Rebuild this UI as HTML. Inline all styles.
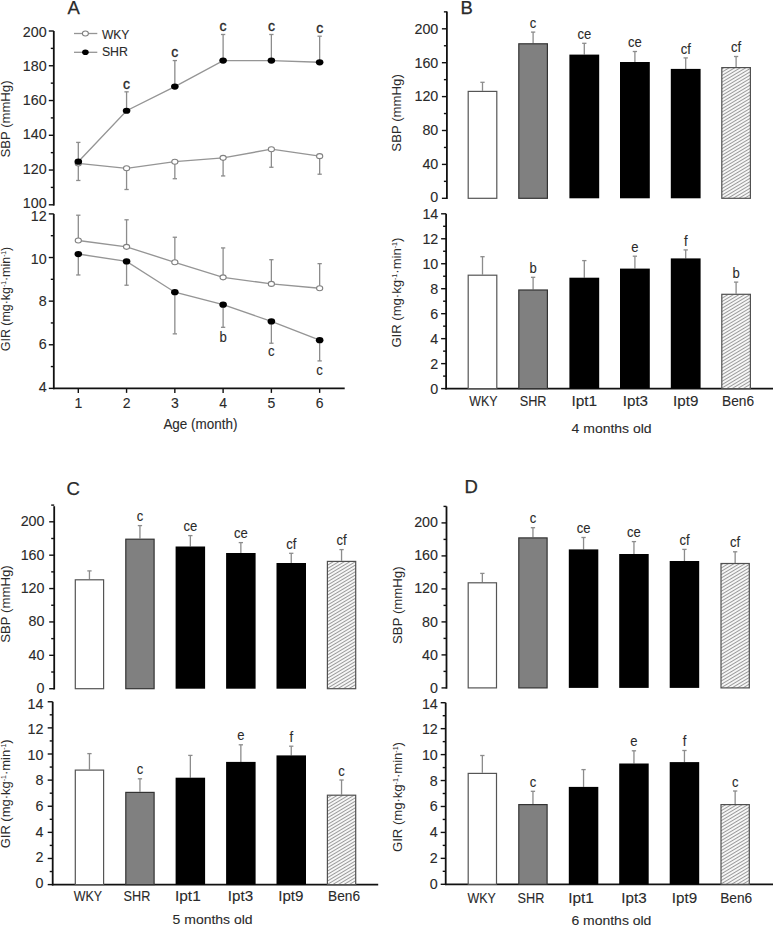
<!DOCTYPE html>
<html><head><meta charset="utf-8"><style>
html,body{margin:0;padding:0;background:#fff;}
svg{display:block;font-family:"Liberation Sans", sans-serif;}
</style></head><body>
<svg width="773" height="925" viewBox="0 0 773 925">
<rect width="773" height="925" fill="#fff"/>
<defs><pattern id="hatch" patternUnits="userSpaceOnUse" width="2.85" height="2.85" patternTransform="rotate(59)">
<rect width="2.85" height="2.85" fill="#f6f6f6"/><line x1="0" y1="0" x2="0" y2="2.85" stroke="#5c5c5c" stroke-width="1.15"/></pattern></defs>
<text x="67.60" y="13.90" font-size="18.5" text-anchor="start" fill="#2a2a2a" stroke="#2a2a2a" stroke-width="0.1" style="stroke-width:0.25px">A</text>
<line x1="53.80" y1="31.00" x2="53.80" y2="205.60" stroke="#111" stroke-width="1.8"/>
<line x1="48.80" y1="204.80" x2="53.80" y2="204.80" stroke="#111" stroke-width="1.4"/>
<line x1="48.80" y1="170.04" x2="53.80" y2="170.04" stroke="#111" stroke-width="1.4"/>
<line x1="48.80" y1="135.28" x2="53.80" y2="135.28" stroke="#111" stroke-width="1.4"/>
<line x1="48.80" y1="100.52" x2="53.80" y2="100.52" stroke="#111" stroke-width="1.4"/>
<line x1="48.80" y1="65.76" x2="53.80" y2="65.76" stroke="#111" stroke-width="1.4"/>
<line x1="48.80" y1="31.00" x2="53.80" y2="31.00" stroke="#111" stroke-width="1.4"/>
<line x1="50.80" y1="187.42" x2="53.80" y2="187.42" stroke="#111" stroke-width="1.4"/>
<line x1="50.80" y1="152.66" x2="53.80" y2="152.66" stroke="#111" stroke-width="1.4"/>
<line x1="50.80" y1="117.90" x2="53.80" y2="117.90" stroke="#111" stroke-width="1.4"/>
<line x1="50.80" y1="83.14" x2="53.80" y2="83.14" stroke="#111" stroke-width="1.4"/>
<line x1="50.80" y1="48.38" x2="53.80" y2="48.38" stroke="#111" stroke-width="1.4"/>
<text x="46.60" y="208.00" font-size="14.3" text-anchor="end" fill="#2a2a2a" stroke="#2a2a2a" stroke-width="0.1" >100</text>
<text x="46.60" y="173.73" font-size="14.3" text-anchor="end" fill="#2a2a2a" stroke="#2a2a2a" stroke-width="0.1" >120</text>
<text x="46.60" y="139.46" font-size="14.3" text-anchor="end" fill="#2a2a2a" stroke="#2a2a2a" stroke-width="0.1" >140</text>
<text x="46.60" y="105.19" font-size="14.3" text-anchor="end" fill="#2a2a2a" stroke="#2a2a2a" stroke-width="0.1" >160</text>
<text x="46.60" y="70.92" font-size="14.3" text-anchor="end" fill="#2a2a2a" stroke="#2a2a2a" stroke-width="0.1" >180</text>
<text x="46.60" y="36.65" font-size="14.3" text-anchor="end" fill="#2a2a2a" stroke="#2a2a2a" stroke-width="0.1" >200</text>
<line x1="53.80" y1="213.90" x2="53.80" y2="389.18" stroke="#111" stroke-width="1.8"/>
<line x1="48.80" y1="388.38" x2="53.80" y2="388.38" stroke="#111" stroke-width="1.4"/>
<line x1="48.80" y1="344.76" x2="53.80" y2="344.76" stroke="#111" stroke-width="1.4"/>
<line x1="48.80" y1="301.14" x2="53.80" y2="301.14" stroke="#111" stroke-width="1.4"/>
<line x1="48.80" y1="257.52" x2="53.80" y2="257.52" stroke="#111" stroke-width="1.4"/>
<line x1="48.80" y1="213.90" x2="53.80" y2="213.90" stroke="#111" stroke-width="1.4"/>
<line x1="50.80" y1="366.57" x2="53.80" y2="366.57" stroke="#111" stroke-width="1.4"/>
<line x1="50.80" y1="322.95" x2="53.80" y2="322.95" stroke="#111" stroke-width="1.4"/>
<line x1="50.80" y1="279.33" x2="53.80" y2="279.33" stroke="#111" stroke-width="1.4"/>
<line x1="50.80" y1="235.71" x2="53.80" y2="235.71" stroke="#111" stroke-width="1.4"/>
<text x="46.60" y="391.58" font-size="14.3" text-anchor="end" fill="#2a2a2a" stroke="#2a2a2a" stroke-width="0.1" >4</text>
<text x="46.60" y="348.88" font-size="14.3" text-anchor="end" fill="#2a2a2a" stroke="#2a2a2a" stroke-width="0.1" >6</text>
<text x="46.60" y="306.19" font-size="14.3" text-anchor="end" fill="#2a2a2a" stroke="#2a2a2a" stroke-width="0.1" >8</text>
<text x="46.60" y="263.50" font-size="14.3" text-anchor="end" fill="#2a2a2a" stroke="#2a2a2a" stroke-width="0.1" >10</text>
<text x="46.60" y="220.80" font-size="14.3" text-anchor="end" fill="#2a2a2a" stroke="#2a2a2a" stroke-width="0.1" >12</text>
<line x1="53.00" y1="388.38" x2="344.70" y2="388.38" stroke="#111" stroke-width="1.8"/>
<line x1="78.30" y1="388.38" x2="78.30" y2="392.88" stroke="#111" stroke-width="1.4"/>
<text x="78.30" y="408.20" font-size="14" text-anchor="middle" fill="#2a2a2a" stroke="#2a2a2a" stroke-width="0.1" >1</text>
<line x1="126.57" y1="388.38" x2="126.57" y2="392.88" stroke="#111" stroke-width="1.4"/>
<text x="126.57" y="408.20" font-size="14" text-anchor="middle" fill="#2a2a2a" stroke="#2a2a2a" stroke-width="0.1" >2</text>
<line x1="174.84" y1="388.38" x2="174.84" y2="392.88" stroke="#111" stroke-width="1.4"/>
<text x="174.84" y="408.20" font-size="14" text-anchor="middle" fill="#2a2a2a" stroke="#2a2a2a" stroke-width="0.1" >3</text>
<line x1="223.11" y1="388.38" x2="223.11" y2="392.88" stroke="#111" stroke-width="1.4"/>
<text x="223.11" y="408.20" font-size="14" text-anchor="middle" fill="#2a2a2a" stroke="#2a2a2a" stroke-width="0.1" >4</text>
<line x1="271.38" y1="388.38" x2="271.38" y2="392.88" stroke="#111" stroke-width="1.4"/>
<text x="271.38" y="408.20" font-size="14" text-anchor="middle" fill="#2a2a2a" stroke="#2a2a2a" stroke-width="0.1" >5</text>
<line x1="319.65" y1="388.38" x2="319.65" y2="392.88" stroke="#111" stroke-width="1.4"/>
<text x="319.65" y="408.20" font-size="14" text-anchor="middle" fill="#2a2a2a" stroke="#2a2a2a" stroke-width="0.1" >6</text>
<text x="200.40" y="428.80" font-size="14" text-anchor="middle" fill="#2a2a2a" textLength="74" lengthAdjust="spacingAndGlyphs" stroke="#2a2a2a" stroke-width="0.1" >Age (month)</text>
<text x="0" y="0" font-size="13" text-anchor="middle" fill="#2a2a2a" transform="translate(10.00,119.00) rotate(-90)" textLength="77" lengthAdjust="spacingAndGlyphs">SBP (mmHg)</text>
<text x="0" y="0" font-size="13" text-anchor="middle" fill="#2a2a2a" transform="translate(9.90,299.00) rotate(-90)" textLength="104.5" lengthAdjust="spacingAndGlyphs">GIR (mg·kg<tspan dy="-4" font-size="7">-1</tspan><tspan dy="4">·min</tspan><tspan dy="-4" font-size="7">-1</tspan><tspan dy="4">)</tspan></text>
<line x1="78.30" y1="163.44" x2="78.30" y2="180.47" stroke="#8c8c8c" stroke-width="1.3"/>
<line x1="76.15" y1="180.47" x2="80.45" y2="180.47" stroke="#8c8c8c" stroke-width="1.3"/>
<line x1="126.57" y1="168.30" x2="126.57" y2="189.51" stroke="#8c8c8c" stroke-width="1.3"/>
<line x1="124.42" y1="189.51" x2="128.72" y2="189.51" stroke="#8c8c8c" stroke-width="1.3"/>
<line x1="174.84" y1="161.70" x2="174.84" y2="178.73" stroke="#8c8c8c" stroke-width="1.3"/>
<line x1="172.69" y1="178.73" x2="176.99" y2="178.73" stroke="#8c8c8c" stroke-width="1.3"/>
<line x1="223.11" y1="157.87" x2="223.11" y2="175.95" stroke="#8c8c8c" stroke-width="1.3"/>
<line x1="220.96" y1="175.95" x2="225.26" y2="175.95" stroke="#8c8c8c" stroke-width="1.3"/>
<line x1="271.38" y1="149.18" x2="271.38" y2="167.26" stroke="#8c8c8c" stroke-width="1.3"/>
<line x1="269.23" y1="167.26" x2="273.53" y2="167.26" stroke="#8c8c8c" stroke-width="1.3"/>
<line x1="319.65" y1="156.14" x2="319.65" y2="174.21" stroke="#8c8c8c" stroke-width="1.3"/>
<line x1="317.50" y1="174.21" x2="321.80" y2="174.21" stroke="#8c8c8c" stroke-width="1.3"/>
<line x1="78.30" y1="161.70" x2="78.30" y2="142.41" stroke="#8c8c8c" stroke-width="1.3"/>
<line x1="76.15" y1="142.41" x2="80.45" y2="142.41" stroke="#8c8c8c" stroke-width="1.3"/>
<line x1="126.57" y1="110.77" x2="126.57" y2="91.83" stroke="#8c8c8c" stroke-width="1.3"/>
<line x1="124.42" y1="91.83" x2="128.72" y2="91.83" stroke="#8c8c8c" stroke-width="1.3"/>
<line x1="174.84" y1="86.62" x2="174.84" y2="60.55" stroke="#8c8c8c" stroke-width="1.3"/>
<line x1="172.69" y1="60.55" x2="176.99" y2="60.55" stroke="#8c8c8c" stroke-width="1.3"/>
<line x1="223.11" y1="60.55" x2="223.11" y2="34.48" stroke="#8c8c8c" stroke-width="1.3"/>
<line x1="220.96" y1="34.48" x2="225.26" y2="34.48" stroke="#8c8c8c" stroke-width="1.3"/>
<line x1="271.38" y1="60.55" x2="271.38" y2="34.48" stroke="#8c8c8c" stroke-width="1.3"/>
<line x1="269.23" y1="34.48" x2="273.53" y2="34.48" stroke="#8c8c8c" stroke-width="1.3"/>
<line x1="319.65" y1="62.28" x2="319.65" y2="36.21" stroke="#8c8c8c" stroke-width="1.3"/>
<line x1="317.50" y1="36.21" x2="321.80" y2="36.21" stroke="#8c8c8c" stroke-width="1.3"/>
<polyline points="78.30,163.44 126.57,168.30 174.84,161.70 223.11,157.87 271.38,149.18 319.65,156.14" fill="none" stroke="#959595" stroke-width="1.35"/>
<polyline points="78.30,161.70 126.57,110.77 174.84,86.62 223.11,60.55 271.38,60.55 319.65,62.28" fill="none" stroke="#959595" stroke-width="1.35"/>
<ellipse cx="78.30" cy="163.44" rx="3.1" ry="2.5" fill="#fff" stroke="#808080" stroke-width="1.1"/>
<ellipse cx="126.57" cy="168.30" rx="3.1" ry="2.5" fill="#fff" stroke="#808080" stroke-width="1.1"/>
<ellipse cx="174.84" cy="161.70" rx="3.1" ry="2.5" fill="#fff" stroke="#808080" stroke-width="1.1"/>
<ellipse cx="223.11" cy="157.87" rx="3.1" ry="2.5" fill="#fff" stroke="#808080" stroke-width="1.1"/>
<ellipse cx="271.38" cy="149.18" rx="3.1" ry="2.5" fill="#fff" stroke="#808080" stroke-width="1.1"/>
<ellipse cx="319.65" cy="156.14" rx="3.1" ry="2.5" fill="#fff" stroke="#808080" stroke-width="1.1"/>
<ellipse cx="78.30" cy="161.70" rx="3.8" ry="3.1" fill="#000"/>
<ellipse cx="126.57" cy="110.77" rx="3.8" ry="3.1" fill="#000"/>
<ellipse cx="174.84" cy="86.62" rx="3.8" ry="3.1" fill="#000"/>
<ellipse cx="223.11" cy="60.55" rx="3.8" ry="3.1" fill="#000"/>
<ellipse cx="271.38" cy="60.55" rx="3.8" ry="3.1" fill="#000"/>
<ellipse cx="319.65" cy="62.28" rx="3.8" ry="3.1" fill="#000"/>
<text x="126.57" y="88.53" font-size="14" text-anchor="middle" fill="#2a2a2a" stroke="#2a2a2a" stroke-width="0.1" style="stroke-width:0.35px">c</text>
<text x="174.84" y="57.25" font-size="14" text-anchor="middle" fill="#2a2a2a" stroke="#2a2a2a" stroke-width="0.1" style="stroke-width:0.35px">c</text>
<text x="223.11" y="31.18" font-size="14" text-anchor="middle" fill="#2a2a2a" stroke="#2a2a2a" stroke-width="0.1" style="stroke-width:0.35px">c</text>
<text x="271.38" y="31.18" font-size="14" text-anchor="middle" fill="#2a2a2a" stroke="#2a2a2a" stroke-width="0.1" style="stroke-width:0.35px">c</text>
<text x="319.65" y="32.91" font-size="14" text-anchor="middle" fill="#2a2a2a" stroke="#2a2a2a" stroke-width="0.1" style="stroke-width:0.35px">c</text>
<line x1="74.00" y1="33.50" x2="97.30" y2="33.50" stroke="#959595" stroke-width="1.3"/>
<ellipse cx="85.4" cy="33.5" rx="3.0" ry="2.5" fill="#fff" stroke="#808080" stroke-width="1.1"/>
<line x1="74.00" y1="52.30" x2="97.30" y2="52.30" stroke="#959595" stroke-width="1.3"/>
<ellipse cx="85.4" cy="52.3" rx="3.3" ry="2.8" fill="#000"/>
<text x="101.90" y="39.20" font-size="13" text-anchor="start" fill="#2a2a2a" textLength="27.5" lengthAdjust="spacingAndGlyphs" stroke="#2a2a2a" stroke-width="0.1" >WKY</text>
<text x="101.90" y="56.20" font-size="13" text-anchor="start" fill="#2a2a2a" textLength="26" lengthAdjust="spacingAndGlyphs" stroke="#2a2a2a" stroke-width="0.1" >SHR</text>
<line x1="78.30" y1="240.51" x2="78.30" y2="215.21" stroke="#8c8c8c" stroke-width="1.3"/>
<line x1="76.15" y1="215.21" x2="80.45" y2="215.21" stroke="#8c8c8c" stroke-width="1.3"/>
<line x1="126.57" y1="246.83" x2="126.57" y2="219.79" stroke="#8c8c8c" stroke-width="1.3"/>
<line x1="124.42" y1="219.79" x2="128.72" y2="219.79" stroke="#8c8c8c" stroke-width="1.3"/>
<line x1="174.84" y1="262.32" x2="174.84" y2="237.24" stroke="#8c8c8c" stroke-width="1.3"/>
<line x1="172.69" y1="237.24" x2="176.99" y2="237.24" stroke="#8c8c8c" stroke-width="1.3"/>
<line x1="223.11" y1="277.37" x2="223.11" y2="247.92" stroke="#8c8c8c" stroke-width="1.3"/>
<line x1="220.96" y1="247.92" x2="225.26" y2="247.92" stroke="#8c8c8c" stroke-width="1.3"/>
<line x1="271.38" y1="283.91" x2="271.38" y2="259.70" stroke="#8c8c8c" stroke-width="1.3"/>
<line x1="269.23" y1="259.70" x2="273.53" y2="259.70" stroke="#8c8c8c" stroke-width="1.3"/>
<line x1="319.65" y1="288.27" x2="319.65" y2="263.63" stroke="#8c8c8c" stroke-width="1.3"/>
<line x1="317.50" y1="263.63" x2="321.80" y2="263.63" stroke="#8c8c8c" stroke-width="1.3"/>
<line x1="78.30" y1="254.03" x2="78.30" y2="274.97" stroke="#8c8c8c" stroke-width="1.3"/>
<line x1="76.15" y1="274.97" x2="80.45" y2="274.97" stroke="#8c8c8c" stroke-width="1.3"/>
<line x1="126.57" y1="261.45" x2="126.57" y2="285.22" stroke="#8c8c8c" stroke-width="1.3"/>
<line x1="124.42" y1="285.22" x2="128.72" y2="285.22" stroke="#8c8c8c" stroke-width="1.3"/>
<line x1="174.84" y1="292.20" x2="174.84" y2="333.86" stroke="#8c8c8c" stroke-width="1.3"/>
<line x1="172.69" y1="333.86" x2="176.99" y2="333.86" stroke="#8c8c8c" stroke-width="1.3"/>
<line x1="223.11" y1="304.63" x2="223.11" y2="327.31" stroke="#8c8c8c" stroke-width="1.3"/>
<line x1="220.96" y1="327.31" x2="225.26" y2="327.31" stroke="#8c8c8c" stroke-width="1.3"/>
<line x1="271.38" y1="321.42" x2="271.38" y2="343.23" stroke="#8c8c8c" stroke-width="1.3"/>
<line x1="269.23" y1="343.23" x2="273.53" y2="343.23" stroke="#8c8c8c" stroke-width="1.3"/>
<line x1="319.65" y1="340.18" x2="319.65" y2="360.90" stroke="#8c8c8c" stroke-width="1.3"/>
<line x1="317.50" y1="360.90" x2="321.80" y2="360.90" stroke="#8c8c8c" stroke-width="1.3"/>
<polyline points="78.30,240.51 126.57,246.83 174.84,262.32 223.11,277.37 271.38,283.91 319.65,288.27" fill="none" stroke="#959595" stroke-width="1.35"/>
<polyline points="78.30,254.03 126.57,261.45 174.84,292.20 223.11,304.63 271.38,321.42 319.65,340.18" fill="none" stroke="#959595" stroke-width="1.35"/>
<ellipse cx="78.30" cy="240.51" rx="3.1" ry="2.5" fill="#fff" stroke="#808080" stroke-width="1.1"/>
<ellipse cx="126.57" cy="246.83" rx="3.1" ry="2.5" fill="#fff" stroke="#808080" stroke-width="1.1"/>
<ellipse cx="174.84" cy="262.32" rx="3.1" ry="2.5" fill="#fff" stroke="#808080" stroke-width="1.1"/>
<ellipse cx="223.11" cy="277.37" rx="3.1" ry="2.5" fill="#fff" stroke="#808080" stroke-width="1.1"/>
<ellipse cx="271.38" cy="283.91" rx="3.1" ry="2.5" fill="#fff" stroke="#808080" stroke-width="1.1"/>
<ellipse cx="319.65" cy="288.27" rx="3.1" ry="2.5" fill="#fff" stroke="#808080" stroke-width="1.1"/>
<ellipse cx="78.30" cy="254.03" rx="3.8" ry="3.1" fill="#000"/>
<ellipse cx="126.57" cy="261.45" rx="3.8" ry="3.1" fill="#000"/>
<ellipse cx="174.84" cy="292.20" rx="3.8" ry="3.1" fill="#000"/>
<ellipse cx="223.11" cy="304.63" rx="3.8" ry="3.1" fill="#000"/>
<ellipse cx="271.38" cy="321.42" rx="3.8" ry="3.1" fill="#000"/>
<ellipse cx="319.65" cy="340.18" rx="3.8" ry="3.1" fill="#000"/>
<text x="223.11" y="342.20" font-size="14" text-anchor="middle" fill="#2a2a2a" textLength="7.3" lengthAdjust="spacingAndGlyphs" stroke="#2a2a2a" stroke-width="0.1" >b</text>
<text x="271.38" y="356.20" font-size="14" text-anchor="middle" fill="#2a2a2a" textLength="6.6" lengthAdjust="spacingAndGlyphs" stroke="#2a2a2a" stroke-width="0.1" >c</text>
<text x="319.65" y="374.80" font-size="14" text-anchor="middle" fill="#2a2a2a" textLength="6.6" lengthAdjust="spacingAndGlyphs" stroke="#2a2a2a" stroke-width="0.1" >c</text>
<text x="460.60" y="13.50" font-size="18.5" text-anchor="start" fill="#2a2a2a" stroke="#2a2a2a" stroke-width="0.1" style="stroke-width:0.25px">B</text>
<line x1="446.90" y1="11.60" x2="446.90" y2="199.10" stroke="#111" stroke-width="1.8"/>
<line x1="441.90" y1="198.30" x2="446.90" y2="198.30" stroke="#111" stroke-width="1.4"/>
<line x1="441.90" y1="164.40" x2="446.90" y2="164.40" stroke="#111" stroke-width="1.4"/>
<line x1="441.90" y1="130.50" x2="446.90" y2="130.50" stroke="#111" stroke-width="1.4"/>
<line x1="441.90" y1="96.60" x2="446.90" y2="96.60" stroke="#111" stroke-width="1.4"/>
<line x1="441.90" y1="62.70" x2="446.90" y2="62.70" stroke="#111" stroke-width="1.4"/>
<line x1="441.90" y1="28.80" x2="446.90" y2="28.80" stroke="#111" stroke-width="1.4"/>
<line x1="443.90" y1="181.35" x2="446.90" y2="181.35" stroke="#111" stroke-width="1.4"/>
<line x1="443.90" y1="147.45" x2="446.90" y2="147.45" stroke="#111" stroke-width="1.4"/>
<line x1="443.90" y1="113.55" x2="446.90" y2="113.55" stroke="#111" stroke-width="1.4"/>
<line x1="443.90" y1="79.65" x2="446.90" y2="79.65" stroke="#111" stroke-width="1.4"/>
<line x1="443.90" y1="45.75" x2="446.90" y2="45.75" stroke="#111" stroke-width="1.4"/>
<line x1="443.90" y1="11.85" x2="446.90" y2="11.85" stroke="#111" stroke-width="1.4"/>
<text x="438.30" y="202.20" font-size="14.3" text-anchor="end" fill="#2a2a2a" stroke="#2a2a2a" stroke-width="0.1" >0</text>
<text x="438.30" y="168.59" font-size="14.3" text-anchor="end" fill="#2a2a2a" stroke="#2a2a2a" stroke-width="0.1" >40</text>
<text x="438.30" y="134.98" font-size="14.3" text-anchor="end" fill="#2a2a2a" stroke="#2a2a2a" stroke-width="0.1" >80</text>
<text x="438.30" y="101.37" font-size="14.3" text-anchor="end" fill="#2a2a2a" stroke="#2a2a2a" stroke-width="0.1" >120</text>
<text x="438.30" y="67.76" font-size="14.3" text-anchor="end" fill="#2a2a2a" stroke="#2a2a2a" stroke-width="0.1" >160</text>
<text x="438.30" y="34.15" font-size="14.3" text-anchor="end" fill="#2a2a2a" stroke="#2a2a2a" stroke-width="0.1" >200</text>
<line x1="446.10" y1="213.80" x2="446.10" y2="389.40" stroke="#111" stroke-width="1.8"/>
<line x1="441.10" y1="388.60" x2="446.10" y2="388.60" stroke="#111" stroke-width="1.4"/>
<line x1="441.10" y1="363.63" x2="446.10" y2="363.63" stroke="#111" stroke-width="1.4"/>
<line x1="441.10" y1="338.66" x2="446.10" y2="338.66" stroke="#111" stroke-width="1.4"/>
<line x1="441.10" y1="313.68" x2="446.10" y2="313.68" stroke="#111" stroke-width="1.4"/>
<line x1="441.10" y1="288.71" x2="446.10" y2="288.71" stroke="#111" stroke-width="1.4"/>
<line x1="441.10" y1="263.74" x2="446.10" y2="263.74" stroke="#111" stroke-width="1.4"/>
<line x1="441.10" y1="238.77" x2="446.10" y2="238.77" stroke="#111" stroke-width="1.4"/>
<line x1="441.10" y1="213.80" x2="446.10" y2="213.80" stroke="#111" stroke-width="1.4"/>
<line x1="443.10" y1="376.11" x2="446.10" y2="376.11" stroke="#111" stroke-width="1.4"/>
<line x1="443.10" y1="351.14" x2="446.10" y2="351.14" stroke="#111" stroke-width="1.4"/>
<line x1="443.10" y1="326.17" x2="446.10" y2="326.17" stroke="#111" stroke-width="1.4"/>
<line x1="443.10" y1="301.20" x2="446.10" y2="301.20" stroke="#111" stroke-width="1.4"/>
<line x1="443.10" y1="276.23" x2="446.10" y2="276.23" stroke="#111" stroke-width="1.4"/>
<line x1="443.10" y1="251.25" x2="446.10" y2="251.25" stroke="#111" stroke-width="1.4"/>
<line x1="443.10" y1="226.28" x2="446.10" y2="226.28" stroke="#111" stroke-width="1.4"/>
<text x="438.30" y="393.75" font-size="14.3" text-anchor="end" fill="#2a2a2a" stroke="#2a2a2a" stroke-width="0.1" >0</text>
<text x="438.30" y="368.78" font-size="14.3" text-anchor="end" fill="#2a2a2a" stroke="#2a2a2a" stroke-width="0.1" >2</text>
<text x="438.30" y="343.81" font-size="14.3" text-anchor="end" fill="#2a2a2a" stroke="#2a2a2a" stroke-width="0.1" >4</text>
<text x="438.30" y="318.83" font-size="14.3" text-anchor="end" fill="#2a2a2a" stroke="#2a2a2a" stroke-width="0.1" >6</text>
<text x="438.30" y="293.86" font-size="14.3" text-anchor="end" fill="#2a2a2a" stroke="#2a2a2a" stroke-width="0.1" >8</text>
<text x="438.30" y="268.89" font-size="14.3" text-anchor="end" fill="#2a2a2a" stroke="#2a2a2a" stroke-width="0.1" >10</text>
<text x="438.30" y="243.92" font-size="14.3" text-anchor="end" fill="#2a2a2a" stroke="#2a2a2a" stroke-width="0.1" >12</text>
<text x="438.30" y="218.95" font-size="14.3" text-anchor="end" fill="#2a2a2a" stroke="#2a2a2a" stroke-width="0.1" >14</text>
<line x1="445.30" y1="388.60" x2="773.00" y2="388.60" stroke="#111" stroke-width="1.8"/>
<line x1="482.50" y1="90.80" x2="482.50" y2="82.30" stroke="#8c8c8c" stroke-width="1.3"/>
<line x1="480.35" y1="82.30" x2="484.65" y2="82.30" stroke="#8c8c8c" stroke-width="1.3"/>
<rect x="468.20" y="91.40" width="28.60" height="106.90" fill="#fff" stroke="#555" stroke-width="1.2"/>
<line x1="482.50" y1="274.60" x2="482.50" y2="256.70" stroke="#8c8c8c" stroke-width="1.3"/>
<line x1="480.35" y1="256.70" x2="484.65" y2="256.70" stroke="#8c8c8c" stroke-width="1.3"/>
<rect x="468.20" y="275.20" width="28.60" height="113.40" fill="#fff" stroke="#555" stroke-width="1.2"/>
<text x="483.50" y="406.30" font-size="14" text-anchor="middle" fill="#2a2a2a" textLength="28.3" lengthAdjust="spacingAndGlyphs" stroke="#2a2a2a" stroke-width="0.1" >WKY</text>
<line x1="533.10" y1="43.20" x2="533.10" y2="32.10" stroke="#8c8c8c" stroke-width="1.3"/>
<line x1="530.95" y1="32.10" x2="535.25" y2="32.10" stroke="#8c8c8c" stroke-width="1.3"/>
<rect x="518.80" y="43.80" width="28.60" height="154.50" fill="#808080" stroke="#333" stroke-width="1.2"/>
<text x="533.10" y="27.70" font-size="14.5" text-anchor="middle" fill="#2a2a2a" textLength="6.53" lengthAdjust="spacingAndGlyphs" stroke="#2a2a2a" stroke-width="0.1" >c</text>
<line x1="533.10" y1="289.40" x2="533.10" y2="277.30" stroke="#8c8c8c" stroke-width="1.3"/>
<line x1="530.95" y1="277.30" x2="535.25" y2="277.30" stroke="#8c8c8c" stroke-width="1.3"/>
<rect x="518.80" y="290.00" width="28.60" height="98.60" fill="#808080" stroke="#333" stroke-width="1.2"/>
<text x="533.10" y="272.90" font-size="14.5" text-anchor="middle" fill="#2a2a2a" textLength="7.26" lengthAdjust="spacingAndGlyphs" stroke="#2a2a2a" stroke-width="0.1" >b</text>
<text x="533.10" y="406.30" font-size="14" text-anchor="middle" fill="#2a2a2a" textLength="26.8" lengthAdjust="spacingAndGlyphs" stroke="#2a2a2a" stroke-width="0.1" >SHR</text>
<line x1="584.30" y1="54.60" x2="584.30" y2="43.30" stroke="#8c8c8c" stroke-width="1.3"/>
<line x1="582.15" y1="43.30" x2="586.45" y2="43.30" stroke="#8c8c8c" stroke-width="1.3"/>
<rect x="569.40" y="54.60" width="29.80" height="143.70" fill="#000"/>
<text x="584.30" y="38.90" font-size="14.5" text-anchor="middle" fill="#2a2a2a" textLength="13.78" lengthAdjust="spacingAndGlyphs" stroke="#2a2a2a" stroke-width="0.1" >ce</text>
<line x1="584.30" y1="277.70" x2="584.30" y2="260.60" stroke="#8c8c8c" stroke-width="1.3"/>
<line x1="582.15" y1="260.60" x2="586.45" y2="260.60" stroke="#8c8c8c" stroke-width="1.3"/>
<rect x="569.40" y="277.70" width="29.80" height="110.90" fill="#000"/>
<text x="584.30" y="406.30" font-size="14" text-anchor="middle" fill="#2a2a2a" textLength="25.8" lengthAdjust="spacingAndGlyphs" stroke="#2a2a2a" stroke-width="0.1" >Ipt1</text>
<line x1="634.90" y1="62.00" x2="634.90" y2="51.50" stroke="#8c8c8c" stroke-width="1.3"/>
<line x1="632.75" y1="51.50" x2="637.05" y2="51.50" stroke="#8c8c8c" stroke-width="1.3"/>
<rect x="620.00" y="62.00" width="29.80" height="136.30" fill="#000"/>
<text x="634.90" y="47.10" font-size="14.5" text-anchor="middle" fill="#2a2a2a" textLength="13.78" lengthAdjust="spacingAndGlyphs" stroke="#2a2a2a" stroke-width="0.1" >ce</text>
<line x1="634.90" y1="268.60" x2="634.90" y2="256.20" stroke="#8c8c8c" stroke-width="1.3"/>
<line x1="632.75" y1="256.20" x2="637.05" y2="256.20" stroke="#8c8c8c" stroke-width="1.3"/>
<rect x="620.00" y="268.60" width="29.80" height="120.00" fill="#000"/>
<text x="634.90" y="251.80" font-size="14.5" text-anchor="middle" fill="#2a2a2a" textLength="7.26" lengthAdjust="spacingAndGlyphs" stroke="#2a2a2a" stroke-width="0.1" >e</text>
<text x="635.40" y="406.30" font-size="14" text-anchor="middle" fill="#2a2a2a" textLength="25.3" lengthAdjust="spacingAndGlyphs" stroke="#2a2a2a" stroke-width="0.1" >Ipt3</text>
<line x1="685.70" y1="68.90" x2="685.70" y2="57.90" stroke="#8c8c8c" stroke-width="1.3"/>
<line x1="683.55" y1="57.90" x2="687.85" y2="57.90" stroke="#8c8c8c" stroke-width="1.3"/>
<rect x="670.80" y="68.90" width="29.80" height="129.40" fill="#000"/>
<text x="685.70" y="53.50" font-size="14.5" text-anchor="middle" fill="#2a2a2a" textLength="10.15" lengthAdjust="spacingAndGlyphs" stroke="#2a2a2a" stroke-width="0.1" >cf</text>
<line x1="685.70" y1="258.40" x2="685.70" y2="249.90" stroke="#8c8c8c" stroke-width="1.3"/>
<line x1="683.55" y1="249.90" x2="687.85" y2="249.90" stroke="#8c8c8c" stroke-width="1.3"/>
<rect x="670.80" y="258.40" width="29.80" height="130.20" fill="#000"/>
<text x="685.70" y="245.50" font-size="14.5" text-anchor="middle" fill="#2a2a2a" textLength="3.63" lengthAdjust="spacingAndGlyphs" stroke="#2a2a2a" stroke-width="0.1" >f</text>
<text x="685.70" y="406.30" font-size="14" text-anchor="middle" fill="#2a2a2a" textLength="25.3" lengthAdjust="spacingAndGlyphs" stroke="#2a2a2a" stroke-width="0.1" >Ipt9</text>
<line x1="736.10" y1="67.00" x2="736.10" y2="56.50" stroke="#8c8c8c" stroke-width="1.3"/>
<line x1="733.95" y1="56.50" x2="738.25" y2="56.50" stroke="#8c8c8c" stroke-width="1.3"/>
<rect x="721.80" y="67.60" width="28.60" height="130.70" fill="url(#hatch)" stroke="#505050" stroke-width="1.2"/>
<text x="736.10" y="52.10" font-size="14.5" text-anchor="middle" fill="#2a2a2a" textLength="10.15" lengthAdjust="spacingAndGlyphs" stroke="#2a2a2a" stroke-width="0.1" >cf</text>
<line x1="736.10" y1="293.70" x2="736.10" y2="282.10" stroke="#8c8c8c" stroke-width="1.3"/>
<line x1="733.95" y1="282.10" x2="738.25" y2="282.10" stroke="#8c8c8c" stroke-width="1.3"/>
<rect x="721.80" y="294.30" width="28.60" height="94.30" fill="url(#hatch)" stroke="#505050" stroke-width="1.2"/>
<text x="736.10" y="277.70" font-size="14.5" text-anchor="middle" fill="#2a2a2a" textLength="7.26" lengthAdjust="spacingAndGlyphs" stroke="#2a2a2a" stroke-width="0.1" >b</text>
<text x="738.10" y="406.30" font-size="14" text-anchor="middle" fill="#2a2a2a" textLength="32.0" lengthAdjust="spacingAndGlyphs" stroke="#2a2a2a" stroke-width="0.1" >Ben6</text>
<text x="571.60" y="433.00" font-size="13.5" text-anchor="start" fill="#2a2a2a" textLength="80" lengthAdjust="spacingAndGlyphs" stroke="#2a2a2a" stroke-width="0.1" >4 months old</text>
<text x="0" y="0" font-size="13" text-anchor="middle" fill="#2a2a2a" transform="translate(401.30,112.90) rotate(-90)" textLength="77.5" lengthAdjust="spacingAndGlyphs">SBP (mmHg)</text>
<text x="0" y="0" font-size="13" text-anchor="middle" fill="#2a2a2a" transform="translate(400.80,292.60) rotate(-90)" textLength="110" lengthAdjust="spacingAndGlyphs">GIR (mg·kg<tspan dy="-4" font-size="7">-1</tspan><tspan dy="4">·min</tspan><tspan dy="-4" font-size="7">-1</tspan><tspan dy="4">)</tspan></text>
<text x="66.60" y="495.00" font-size="18.5" text-anchor="start" fill="#2a2a2a" stroke="#2a2a2a" stroke-width="0.1" style="stroke-width:0.25px">C</text>
<line x1="54.20" y1="506.20" x2="54.20" y2="689.50" stroke="#111" stroke-width="1.8"/>
<line x1="49.20" y1="688.70" x2="54.20" y2="688.70" stroke="#111" stroke-width="1.4"/>
<line x1="49.20" y1="655.32" x2="54.20" y2="655.32" stroke="#111" stroke-width="1.4"/>
<line x1="49.20" y1="621.94" x2="54.20" y2="621.94" stroke="#111" stroke-width="1.4"/>
<line x1="49.20" y1="588.56" x2="54.20" y2="588.56" stroke="#111" stroke-width="1.4"/>
<line x1="49.20" y1="555.18" x2="54.20" y2="555.18" stroke="#111" stroke-width="1.4"/>
<line x1="49.20" y1="521.80" x2="54.20" y2="521.80" stroke="#111" stroke-width="1.4"/>
<line x1="51.20" y1="672.01" x2="54.20" y2="672.01" stroke="#111" stroke-width="1.4"/>
<line x1="51.20" y1="638.63" x2="54.20" y2="638.63" stroke="#111" stroke-width="1.4"/>
<line x1="51.20" y1="605.25" x2="54.20" y2="605.25" stroke="#111" stroke-width="1.4"/>
<line x1="51.20" y1="571.87" x2="54.20" y2="571.87" stroke="#111" stroke-width="1.4"/>
<line x1="51.20" y1="538.49" x2="54.20" y2="538.49" stroke="#111" stroke-width="1.4"/>
<line x1="51.20" y1="505.11" x2="54.20" y2="505.11" stroke="#111" stroke-width="1.4"/>
<text x="44.50" y="693.35" font-size="14.3" text-anchor="end" fill="#2a2a2a" stroke="#2a2a2a" stroke-width="0.1" >0</text>
<text x="44.50" y="659.89" font-size="14.3" text-anchor="end" fill="#2a2a2a" stroke="#2a2a2a" stroke-width="0.1" >40</text>
<text x="44.50" y="626.43" font-size="14.3" text-anchor="end" fill="#2a2a2a" stroke="#2a2a2a" stroke-width="0.1" >80</text>
<text x="44.50" y="592.97" font-size="14.3" text-anchor="end" fill="#2a2a2a" stroke="#2a2a2a" stroke-width="0.1" >120</text>
<text x="44.50" y="559.51" font-size="14.3" text-anchor="end" fill="#2a2a2a" stroke="#2a2a2a" stroke-width="0.1" >160</text>
<text x="44.50" y="526.05" font-size="14.3" text-anchor="end" fill="#2a2a2a" stroke="#2a2a2a" stroke-width="0.1" >200</text>
<line x1="52.70" y1="701.76" x2="52.70" y2="885.40" stroke="#111" stroke-width="1.8"/>
<line x1="47.70" y1="884.60" x2="52.70" y2="884.60" stroke="#111" stroke-width="1.4"/>
<line x1="47.70" y1="858.48" x2="52.70" y2="858.48" stroke="#111" stroke-width="1.4"/>
<line x1="47.70" y1="832.36" x2="52.70" y2="832.36" stroke="#111" stroke-width="1.4"/>
<line x1="47.70" y1="806.24" x2="52.70" y2="806.24" stroke="#111" stroke-width="1.4"/>
<line x1="47.70" y1="780.12" x2="52.70" y2="780.12" stroke="#111" stroke-width="1.4"/>
<line x1="47.70" y1="754.00" x2="52.70" y2="754.00" stroke="#111" stroke-width="1.4"/>
<line x1="47.70" y1="727.88" x2="52.70" y2="727.88" stroke="#111" stroke-width="1.4"/>
<line x1="47.70" y1="701.76" x2="52.70" y2="701.76" stroke="#111" stroke-width="1.4"/>
<line x1="49.70" y1="871.54" x2="52.70" y2="871.54" stroke="#111" stroke-width="1.4"/>
<line x1="49.70" y1="845.42" x2="52.70" y2="845.42" stroke="#111" stroke-width="1.4"/>
<line x1="49.70" y1="819.30" x2="52.70" y2="819.30" stroke="#111" stroke-width="1.4"/>
<line x1="49.70" y1="793.18" x2="52.70" y2="793.18" stroke="#111" stroke-width="1.4"/>
<line x1="49.70" y1="767.06" x2="52.70" y2="767.06" stroke="#111" stroke-width="1.4"/>
<line x1="49.70" y1="740.94" x2="52.70" y2="740.94" stroke="#111" stroke-width="1.4"/>
<line x1="49.70" y1="714.82" x2="52.70" y2="714.82" stroke="#111" stroke-width="1.4"/>
<text x="43.40" y="887.70" font-size="14.3" text-anchor="end" fill="#2a2a2a" stroke="#2a2a2a" stroke-width="0.1" >0</text>
<text x="43.40" y="862.11" font-size="14.3" text-anchor="end" fill="#2a2a2a" stroke="#2a2a2a" stroke-width="0.1" >2</text>
<text x="43.40" y="836.52" font-size="14.3" text-anchor="end" fill="#2a2a2a" stroke="#2a2a2a" stroke-width="0.1" >4</text>
<text x="43.40" y="810.93" font-size="14.3" text-anchor="end" fill="#2a2a2a" stroke="#2a2a2a" stroke-width="0.1" >6</text>
<text x="43.40" y="785.33" font-size="14.3" text-anchor="end" fill="#2a2a2a" stroke="#2a2a2a" stroke-width="0.1" >8</text>
<text x="43.40" y="759.74" font-size="14.3" text-anchor="end" fill="#2a2a2a" stroke="#2a2a2a" stroke-width="0.1" >10</text>
<text x="43.40" y="734.15" font-size="14.3" text-anchor="end" fill="#2a2a2a" stroke="#2a2a2a" stroke-width="0.1" >12</text>
<text x="43.40" y="708.56" font-size="14.3" text-anchor="end" fill="#2a2a2a" stroke="#2a2a2a" stroke-width="0.1" >14</text>
<line x1="51.90" y1="884.60" x2="378.20" y2="884.60" stroke="#111" stroke-width="1.8"/>
<line x1="89.45" y1="579.20" x2="89.45" y2="570.90" stroke="#8c8c8c" stroke-width="1.3"/>
<line x1="87.30" y1="570.90" x2="91.60" y2="570.90" stroke="#8c8c8c" stroke-width="1.3"/>
<rect x="75.30" y="579.80" width="28.30" height="108.90" fill="#fff" stroke="#555" stroke-width="1.2"/>
<line x1="89.45" y1="769.50" x2="89.45" y2="753.60" stroke="#8c8c8c" stroke-width="1.3"/>
<line x1="87.30" y1="753.60" x2="91.60" y2="753.60" stroke="#8c8c8c" stroke-width="1.3"/>
<rect x="75.30" y="770.10" width="28.30" height="114.50" fill="#fff" stroke="#555" stroke-width="1.2"/>
<text x="87.95" y="900.50" font-size="14" text-anchor="middle" fill="#2a2a2a" textLength="28.3" lengthAdjust="spacingAndGlyphs" stroke="#2a2a2a" stroke-width="0.1" >WKY</text>
<line x1="139.95" y1="538.60" x2="139.95" y2="525.60" stroke="#8c8c8c" stroke-width="1.3"/>
<line x1="137.80" y1="525.60" x2="142.10" y2="525.60" stroke="#8c8c8c" stroke-width="1.3"/>
<rect x="125.80" y="539.20" width="28.30" height="149.50" fill="#808080" stroke="#333" stroke-width="1.2"/>
<text x="139.95" y="521.20" font-size="14.5" text-anchor="middle" fill="#2a2a2a" textLength="6.53" lengthAdjust="spacingAndGlyphs" stroke="#2a2a2a" stroke-width="0.1" >c</text>
<line x1="139.95" y1="791.80" x2="139.95" y2="778.80" stroke="#8c8c8c" stroke-width="1.3"/>
<line x1="137.80" y1="778.80" x2="142.10" y2="778.80" stroke="#8c8c8c" stroke-width="1.3"/>
<rect x="125.80" y="792.40" width="28.30" height="92.20" fill="#808080" stroke="#333" stroke-width="1.2"/>
<text x="139.95" y="774.40" font-size="14.5" text-anchor="middle" fill="#2a2a2a" textLength="6.53" lengthAdjust="spacingAndGlyphs" stroke="#2a2a2a" stroke-width="0.1" >c</text>
<text x="136.95" y="900.50" font-size="14" text-anchor="middle" fill="#2a2a2a" textLength="26.8" lengthAdjust="spacingAndGlyphs" stroke="#2a2a2a" stroke-width="0.1" >SHR</text>
<line x1="190.35" y1="546.50" x2="190.35" y2="535.60" stroke="#8c8c8c" stroke-width="1.3"/>
<line x1="188.20" y1="535.60" x2="192.50" y2="535.60" stroke="#8c8c8c" stroke-width="1.3"/>
<rect x="175.60" y="546.50" width="29.50" height="142.20" fill="#000"/>
<text x="190.35" y="531.20" font-size="14.5" text-anchor="middle" fill="#2a2a2a" textLength="13.78" lengthAdjust="spacingAndGlyphs" stroke="#2a2a2a" stroke-width="0.1" >ce</text>
<line x1="190.35" y1="777.70" x2="190.35" y2="755.40" stroke="#8c8c8c" stroke-width="1.3"/>
<line x1="188.20" y1="755.40" x2="192.50" y2="755.40" stroke="#8c8c8c" stroke-width="1.3"/>
<rect x="175.60" y="777.70" width="29.50" height="106.90" fill="#000"/>
<text x="187.85" y="900.50" font-size="14" text-anchor="middle" fill="#2a2a2a" textLength="25.8" lengthAdjust="spacingAndGlyphs" stroke="#2a2a2a" stroke-width="0.1" >Ipt1</text>
<line x1="240.85" y1="553.00" x2="240.85" y2="542.60" stroke="#8c8c8c" stroke-width="1.3"/>
<line x1="238.70" y1="542.60" x2="243.00" y2="542.60" stroke="#8c8c8c" stroke-width="1.3"/>
<rect x="226.10" y="553.00" width="29.50" height="135.70" fill="#000"/>
<text x="240.85" y="538.20" font-size="14.5" text-anchor="middle" fill="#2a2a2a" textLength="13.78" lengthAdjust="spacingAndGlyphs" stroke="#2a2a2a" stroke-width="0.1" >ce</text>
<line x1="240.85" y1="761.90" x2="240.85" y2="744.80" stroke="#8c8c8c" stroke-width="1.3"/>
<line x1="238.70" y1="744.80" x2="243.00" y2="744.80" stroke="#8c8c8c" stroke-width="1.3"/>
<rect x="226.10" y="761.90" width="29.50" height="122.70" fill="#000"/>
<text x="240.85" y="740.40" font-size="14.5" text-anchor="middle" fill="#2a2a2a" textLength="7.26" lengthAdjust="spacingAndGlyphs" stroke="#2a2a2a" stroke-width="0.1" >e</text>
<text x="240.45" y="900.50" font-size="14" text-anchor="middle" fill="#2a2a2a" textLength="25.3" lengthAdjust="spacingAndGlyphs" stroke="#2a2a2a" stroke-width="0.1" >Ipt3</text>
<line x1="291.25" y1="563.00" x2="291.25" y2="553.30" stroke="#8c8c8c" stroke-width="1.3"/>
<line x1="289.10" y1="553.30" x2="293.40" y2="553.30" stroke="#8c8c8c" stroke-width="1.3"/>
<rect x="276.50" y="563.00" width="29.50" height="125.70" fill="#000"/>
<text x="291.25" y="548.90" font-size="14.5" text-anchor="middle" fill="#2a2a2a" textLength="10.15" lengthAdjust="spacingAndGlyphs" stroke="#2a2a2a" stroke-width="0.1" >cf</text>
<line x1="291.25" y1="755.40" x2="291.25" y2="746.20" stroke="#8c8c8c" stroke-width="1.3"/>
<line x1="289.10" y1="746.20" x2="293.40" y2="746.20" stroke="#8c8c8c" stroke-width="1.3"/>
<rect x="276.50" y="755.40" width="29.50" height="129.20" fill="#000"/>
<text x="291.25" y="741.80" font-size="14.5" text-anchor="middle" fill="#2a2a2a" textLength="3.63" lengthAdjust="spacingAndGlyphs" stroke="#2a2a2a" stroke-width="0.1" >f</text>
<text x="290.85" y="900.50" font-size="14" text-anchor="middle" fill="#2a2a2a" textLength="25.3" lengthAdjust="spacingAndGlyphs" stroke="#2a2a2a" stroke-width="0.1" >Ipt9</text>
<line x1="341.55" y1="560.80" x2="341.55" y2="549.60" stroke="#8c8c8c" stroke-width="1.3"/>
<line x1="339.40" y1="549.60" x2="343.70" y2="549.60" stroke="#8c8c8c" stroke-width="1.3"/>
<rect x="327.40" y="561.40" width="28.30" height="127.30" fill="url(#hatch)" stroke="#505050" stroke-width="1.2"/>
<text x="341.55" y="545.20" font-size="14.5" text-anchor="middle" fill="#2a2a2a" textLength="10.15" lengthAdjust="spacingAndGlyphs" stroke="#2a2a2a" stroke-width="0.1" >cf</text>
<line x1="341.55" y1="794.60" x2="341.55" y2="780.00" stroke="#8c8c8c" stroke-width="1.3"/>
<line x1="339.40" y1="780.00" x2="343.70" y2="780.00" stroke="#8c8c8c" stroke-width="1.3"/>
<rect x="327.40" y="795.20" width="28.30" height="89.40" fill="url(#hatch)" stroke="#505050" stroke-width="1.2"/>
<text x="341.55" y="775.60" font-size="14.5" text-anchor="middle" fill="#2a2a2a" textLength="6.53" lengthAdjust="spacingAndGlyphs" stroke="#2a2a2a" stroke-width="0.1" >c</text>
<text x="344.05" y="900.50" font-size="14" text-anchor="middle" fill="#2a2a2a" textLength="32.0" lengthAdjust="spacingAndGlyphs" stroke="#2a2a2a" stroke-width="0.1" >Ben6</text>
<text x="172.60" y="924.40" font-size="13.5" text-anchor="start" fill="#2a2a2a" textLength="80" lengthAdjust="spacingAndGlyphs" stroke="#2a2a2a" stroke-width="0.1" >5 months old</text>
<text x="0" y="0" font-size="13" text-anchor="middle" fill="#2a2a2a" transform="translate(10.00,604.00) rotate(-90)" textLength="77.5" lengthAdjust="spacingAndGlyphs">SBP (mmHg)</text>
<text x="0" y="0" font-size="13" text-anchor="middle" fill="#2a2a2a" transform="translate(10.00,793.80) rotate(-90)" textLength="109" lengthAdjust="spacingAndGlyphs">GIR (mg·kg<tspan dy="-4" font-size="7">-1</tspan><tspan dy="4">·min</tspan><tspan dy="-4" font-size="7">-1</tspan><tspan dy="4">)</tspan></text>
<text x="464.60" y="492.50" font-size="18.5" text-anchor="start" fill="#2a2a2a" stroke="#2a2a2a" stroke-width="0.1" style="stroke-width:0.25px">D</text>
<line x1="446.50" y1="506.40" x2="446.50" y2="688.70" stroke="#111" stroke-width="1.8"/>
<line x1="441.50" y1="687.90" x2="446.50" y2="687.90" stroke="#111" stroke-width="1.4"/>
<line x1="441.50" y1="654.90" x2="446.50" y2="654.90" stroke="#111" stroke-width="1.4"/>
<line x1="441.50" y1="621.90" x2="446.50" y2="621.90" stroke="#111" stroke-width="1.4"/>
<line x1="441.50" y1="588.90" x2="446.50" y2="588.90" stroke="#111" stroke-width="1.4"/>
<line x1="441.50" y1="555.90" x2="446.50" y2="555.90" stroke="#111" stroke-width="1.4"/>
<line x1="441.50" y1="522.90" x2="446.50" y2="522.90" stroke="#111" stroke-width="1.4"/>
<line x1="443.50" y1="671.40" x2="446.50" y2="671.40" stroke="#111" stroke-width="1.4"/>
<line x1="443.50" y1="638.40" x2="446.50" y2="638.40" stroke="#111" stroke-width="1.4"/>
<line x1="443.50" y1="605.40" x2="446.50" y2="605.40" stroke="#111" stroke-width="1.4"/>
<line x1="443.50" y1="572.40" x2="446.50" y2="572.40" stroke="#111" stroke-width="1.4"/>
<line x1="443.50" y1="539.40" x2="446.50" y2="539.40" stroke="#111" stroke-width="1.4"/>
<line x1="443.50" y1="506.40" x2="446.50" y2="506.40" stroke="#111" stroke-width="1.4"/>
<text x="438.00" y="693.45" font-size="14.3" text-anchor="end" fill="#2a2a2a" stroke="#2a2a2a" stroke-width="0.1" >0</text>
<text x="438.00" y="660.06" font-size="14.3" text-anchor="end" fill="#2a2a2a" stroke="#2a2a2a" stroke-width="0.1" >40</text>
<text x="438.00" y="626.67" font-size="14.3" text-anchor="end" fill="#2a2a2a" stroke="#2a2a2a" stroke-width="0.1" >80</text>
<text x="438.00" y="593.28" font-size="14.3" text-anchor="end" fill="#2a2a2a" stroke="#2a2a2a" stroke-width="0.1" >120</text>
<text x="438.00" y="559.89" font-size="14.3" text-anchor="end" fill="#2a2a2a" stroke="#2a2a2a" stroke-width="0.1" >160</text>
<text x="438.00" y="526.50" font-size="14.3" text-anchor="end" fill="#2a2a2a" stroke="#2a2a2a" stroke-width="0.1" >200</text>
<line x1="445.70" y1="702.72" x2="445.70" y2="885.10" stroke="#111" stroke-width="1.8"/>
<line x1="440.70" y1="884.30" x2="445.70" y2="884.30" stroke="#111" stroke-width="1.4"/>
<line x1="440.70" y1="858.36" x2="445.70" y2="858.36" stroke="#111" stroke-width="1.4"/>
<line x1="440.70" y1="832.42" x2="445.70" y2="832.42" stroke="#111" stroke-width="1.4"/>
<line x1="440.70" y1="806.48" x2="445.70" y2="806.48" stroke="#111" stroke-width="1.4"/>
<line x1="440.70" y1="780.54" x2="445.70" y2="780.54" stroke="#111" stroke-width="1.4"/>
<line x1="440.70" y1="754.60" x2="445.70" y2="754.60" stroke="#111" stroke-width="1.4"/>
<line x1="440.70" y1="728.66" x2="445.70" y2="728.66" stroke="#111" stroke-width="1.4"/>
<line x1="440.70" y1="702.72" x2="445.70" y2="702.72" stroke="#111" stroke-width="1.4"/>
<line x1="442.70" y1="871.33" x2="445.70" y2="871.33" stroke="#111" stroke-width="1.4"/>
<line x1="442.70" y1="845.39" x2="445.70" y2="845.39" stroke="#111" stroke-width="1.4"/>
<line x1="442.70" y1="819.45" x2="445.70" y2="819.45" stroke="#111" stroke-width="1.4"/>
<line x1="442.70" y1="793.51" x2="445.70" y2="793.51" stroke="#111" stroke-width="1.4"/>
<line x1="442.70" y1="767.57" x2="445.70" y2="767.57" stroke="#111" stroke-width="1.4"/>
<line x1="442.70" y1="741.63" x2="445.70" y2="741.63" stroke="#111" stroke-width="1.4"/>
<line x1="442.70" y1="715.69" x2="445.70" y2="715.69" stroke="#111" stroke-width="1.4"/>
<text x="437.80" y="888.60" font-size="14.3" text-anchor="end" fill="#2a2a2a" stroke="#2a2a2a" stroke-width="0.1" >0</text>
<text x="437.80" y="862.90" font-size="14.3" text-anchor="end" fill="#2a2a2a" stroke="#2a2a2a" stroke-width="0.1" >2</text>
<text x="437.80" y="837.19" font-size="14.3" text-anchor="end" fill="#2a2a2a" stroke="#2a2a2a" stroke-width="0.1" >4</text>
<text x="437.80" y="811.49" font-size="14.3" text-anchor="end" fill="#2a2a2a" stroke="#2a2a2a" stroke-width="0.1" >6</text>
<text x="437.80" y="785.78" font-size="14.3" text-anchor="end" fill="#2a2a2a" stroke="#2a2a2a" stroke-width="0.1" >8</text>
<text x="437.80" y="760.08" font-size="14.3" text-anchor="end" fill="#2a2a2a" stroke="#2a2a2a" stroke-width="0.1" >10</text>
<text x="437.80" y="734.37" font-size="14.3" text-anchor="end" fill="#2a2a2a" stroke="#2a2a2a" stroke-width="0.1" >12</text>
<text x="437.80" y="708.67" font-size="14.3" text-anchor="end" fill="#2a2a2a" stroke="#2a2a2a" stroke-width="0.1" >14</text>
<line x1="444.90" y1="884.30" x2="773.00" y2="884.30" stroke="#111" stroke-width="1.8"/>
<line x1="482.35" y1="582.20" x2="482.35" y2="573.40" stroke="#8c8c8c" stroke-width="1.3"/>
<line x1="480.20" y1="573.40" x2="484.50" y2="573.40" stroke="#8c8c8c" stroke-width="1.3"/>
<rect x="468.20" y="582.80" width="28.30" height="105.10" fill="#fff" stroke="#555" stroke-width="1.2"/>
<line x1="482.35" y1="772.80" x2="482.35" y2="755.50" stroke="#8c8c8c" stroke-width="1.3"/>
<line x1="480.20" y1="755.50" x2="484.50" y2="755.50" stroke="#8c8c8c" stroke-width="1.3"/>
<rect x="468.20" y="773.40" width="28.30" height="110.90" fill="#fff" stroke="#555" stroke-width="1.2"/>
<text x="481.65" y="902.90" font-size="14" text-anchor="middle" fill="#2a2a2a" textLength="28.3" lengthAdjust="spacingAndGlyphs" stroke="#2a2a2a" stroke-width="0.1" >WKY</text>
<line x1="532.95" y1="537.30" x2="532.95" y2="527.70" stroke="#8c8c8c" stroke-width="1.3"/>
<line x1="530.80" y1="527.70" x2="535.10" y2="527.70" stroke="#8c8c8c" stroke-width="1.3"/>
<rect x="518.80" y="537.90" width="28.30" height="150.00" fill="#808080" stroke="#333" stroke-width="1.2"/>
<text x="532.95" y="523.30" font-size="14.5" text-anchor="middle" fill="#2a2a2a" textLength="6.53" lengthAdjust="spacingAndGlyphs" stroke="#2a2a2a" stroke-width="0.1" >c</text>
<line x1="532.95" y1="804.00" x2="532.95" y2="791.30" stroke="#8c8c8c" stroke-width="1.3"/>
<line x1="530.80" y1="791.30" x2="535.10" y2="791.30" stroke="#8c8c8c" stroke-width="1.3"/>
<rect x="518.80" y="804.60" width="28.30" height="79.70" fill="#808080" stroke="#333" stroke-width="1.2"/>
<text x="532.95" y="786.90" font-size="14.5" text-anchor="middle" fill="#2a2a2a" textLength="6.53" lengthAdjust="spacingAndGlyphs" stroke="#2a2a2a" stroke-width="0.1" >c</text>
<text x="530.95" y="902.90" font-size="14" text-anchor="middle" fill="#2a2a2a" textLength="26.8" lengthAdjust="spacingAndGlyphs" stroke="#2a2a2a" stroke-width="0.1" >SHR</text>
<line x1="583.55" y1="549.40" x2="583.55" y2="537.50" stroke="#8c8c8c" stroke-width="1.3"/>
<line x1="581.40" y1="537.50" x2="585.70" y2="537.50" stroke="#8c8c8c" stroke-width="1.3"/>
<rect x="568.80" y="549.40" width="29.50" height="138.50" fill="#000"/>
<text x="583.55" y="533.10" font-size="14.5" text-anchor="middle" fill="#2a2a2a" textLength="13.78" lengthAdjust="spacingAndGlyphs" stroke="#2a2a2a" stroke-width="0.1" >ce</text>
<line x1="583.55" y1="786.90" x2="583.55" y2="769.60" stroke="#8c8c8c" stroke-width="1.3"/>
<line x1="581.40" y1="769.60" x2="585.70" y2="769.60" stroke="#8c8c8c" stroke-width="1.3"/>
<rect x="568.80" y="786.90" width="29.50" height="97.40" fill="#000"/>
<text x="581.05" y="902.90" font-size="14" text-anchor="middle" fill="#2a2a2a" textLength="25.8" lengthAdjust="spacingAndGlyphs" stroke="#2a2a2a" stroke-width="0.1" >Ipt1</text>
<line x1="633.95" y1="554.00" x2="633.95" y2="541.60" stroke="#8c8c8c" stroke-width="1.3"/>
<line x1="631.80" y1="541.60" x2="636.10" y2="541.60" stroke="#8c8c8c" stroke-width="1.3"/>
<rect x="619.20" y="554.00" width="29.50" height="133.90" fill="#000"/>
<text x="633.95" y="537.20" font-size="14.5" text-anchor="middle" fill="#2a2a2a" textLength="13.78" lengthAdjust="spacingAndGlyphs" stroke="#2a2a2a" stroke-width="0.1" >ce</text>
<line x1="633.95" y1="763.50" x2="633.95" y2="750.80" stroke="#8c8c8c" stroke-width="1.3"/>
<line x1="631.80" y1="750.80" x2="636.10" y2="750.80" stroke="#8c8c8c" stroke-width="1.3"/>
<rect x="619.20" y="763.50" width="29.50" height="120.80" fill="#000"/>
<text x="633.95" y="746.40" font-size="14.5" text-anchor="middle" fill="#2a2a2a" textLength="7.26" lengthAdjust="spacingAndGlyphs" stroke="#2a2a2a" stroke-width="0.1" >e</text>
<text x="633.95" y="902.90" font-size="14" text-anchor="middle" fill="#2a2a2a" textLength="25.3" lengthAdjust="spacingAndGlyphs" stroke="#2a2a2a" stroke-width="0.1" >Ipt3</text>
<line x1="684.45" y1="561.00" x2="684.45" y2="549.40" stroke="#8c8c8c" stroke-width="1.3"/>
<line x1="682.30" y1="549.40" x2="686.60" y2="549.40" stroke="#8c8c8c" stroke-width="1.3"/>
<rect x="669.70" y="561.00" width="29.50" height="126.90" fill="#000"/>
<text x="684.45" y="545.00" font-size="14.5" text-anchor="middle" fill="#2a2a2a" textLength="10.15" lengthAdjust="spacingAndGlyphs" stroke="#2a2a2a" stroke-width="0.1" >cf</text>
<line x1="684.45" y1="762.10" x2="684.45" y2="750.50" stroke="#8c8c8c" stroke-width="1.3"/>
<line x1="682.30" y1="750.50" x2="686.60" y2="750.50" stroke="#8c8c8c" stroke-width="1.3"/>
<rect x="669.70" y="762.10" width="29.50" height="122.20" fill="#000"/>
<text x="684.45" y="746.10" font-size="14.5" text-anchor="middle" fill="#2a2a2a" textLength="3.63" lengthAdjust="spacingAndGlyphs" stroke="#2a2a2a" stroke-width="0.1" >f</text>
<text x="684.45" y="902.90" font-size="14" text-anchor="middle" fill="#2a2a2a" textLength="25.3" lengthAdjust="spacingAndGlyphs" stroke="#2a2a2a" stroke-width="0.1" >Ipt9</text>
<line x1="735.15" y1="562.90" x2="735.15" y2="551.80" stroke="#8c8c8c" stroke-width="1.3"/>
<line x1="733.00" y1="551.80" x2="737.30" y2="551.80" stroke="#8c8c8c" stroke-width="1.3"/>
<rect x="721.00" y="563.50" width="28.30" height="124.40" fill="url(#hatch)" stroke="#505050" stroke-width="1.2"/>
<text x="735.15" y="547.40" font-size="14.5" text-anchor="middle" fill="#2a2a2a" textLength="10.15" lengthAdjust="spacingAndGlyphs" stroke="#2a2a2a" stroke-width="0.1" >cf</text>
<line x1="735.15" y1="804.00" x2="735.15" y2="791.00" stroke="#8c8c8c" stroke-width="1.3"/>
<line x1="733.00" y1="791.00" x2="737.30" y2="791.00" stroke="#8c8c8c" stroke-width="1.3"/>
<rect x="721.00" y="804.60" width="28.30" height="79.70" fill="url(#hatch)" stroke="#505050" stroke-width="1.2"/>
<text x="735.15" y="786.60" font-size="14.5" text-anchor="middle" fill="#2a2a2a" textLength="6.53" lengthAdjust="spacingAndGlyphs" stroke="#2a2a2a" stroke-width="0.1" >c</text>
<text x="736.15" y="902.90" font-size="14" text-anchor="middle" fill="#2a2a2a" textLength="32.0" lengthAdjust="spacingAndGlyphs" stroke="#2a2a2a" stroke-width="0.1" >Ben6</text>
<text x="571.40" y="924.60" font-size="13.5" text-anchor="start" fill="#2a2a2a" textLength="80" lengthAdjust="spacingAndGlyphs" stroke="#2a2a2a" stroke-width="0.1" >6 months old</text>
<text x="0" y="0" font-size="13" text-anchor="middle" fill="#2a2a2a" transform="translate(401.50,605.20) rotate(-90)" textLength="77.5" lengthAdjust="spacingAndGlyphs">SBP (mmHg)</text>
<text x="0" y="0" font-size="13" text-anchor="middle" fill="#2a2a2a" transform="translate(402.00,797.00) rotate(-90)" textLength="110" lengthAdjust="spacingAndGlyphs">GIR (mg·kg<tspan dy="-4" font-size="7">-1</tspan><tspan dy="4">·min</tspan><tspan dy="-4" font-size="7">-1</tspan><tspan dy="4">)</tspan></text>
</svg></body></html>
